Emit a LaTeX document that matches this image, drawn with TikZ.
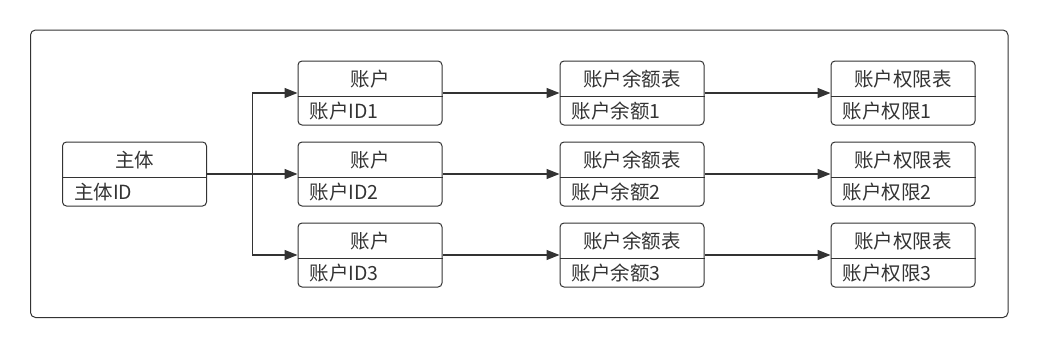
\documentclass[tikz,border=0pt]{standalone}
\usepackage{fontspec}
\setmainfont{Noto Sans CJK SC}
\usetikzlibrary{arrows.meta,calc}
\definecolor{ink}{HTML}{333333}
\tikzset{
  ebox/.style={draw=ink, line width=1pt, rounded corners=4pt, minimum width=144pt, minimum height=64pt, inner sep=0pt},
  etitle/.style={text=ink, font=\fontsize{19.5}{23}\selectfont, inner sep=0pt, anchor=center},
  elabel/.style={text=ink, font=\fontsize{19.5}{23}\selectfont, inner sep=0pt, anchor=west},
  arr/.style={draw=ink, line width=1.2pt, -{Triangle[length=13pt,width=10pt]}},
  frame/.style={draw=ink, line width=1pt, rounded corners=5pt}
}
\newcommand\mkentity[5]{%
  \node[ebox] (#1) at (#2,#3) {};
  \draw[ink, line width=1pt] ($(#1.north west)+(0,36)$) -- ($(#1.north east)+(0,36)$);
  \node[etitle] (#1t) at ($(#1.north)+(0,19)$) {#4};
  \node[elabel] (#1l) at ($(#1.north west)+(12,51)$) {#5};
}
\begin{document}
\begin{tikzpicture}[x=1pt,y=-1pt]
\useasboundingbox (0,0) rectangle (1039,348);
\draw[frame] (30.5,30) rectangle (1008,317.5);
\mkentity{zt}{134.5}{174}{主体}{主体ID}
\mkentity{acca}{370}{93}{账户}{账户ID1}
\mkentity{accb}{370}{174}{账户}{账户ID2}
\mkentity{accc}{370}{255}{账户}{账户ID3}
\mkentity{bala}{632}{93}{账户余额表}{账户余额1}
\mkentity{balb}{632}{174}{账户余额表}{账户余额2}
\mkentity{balc}{632}{255}{账户余额表}{账户余额3}
\mkentity{pera}{903}{93}{账户权限表}{账户权限1}
\mkentity{perb}{903}{174}{账户权限表}{账户权限2}
\mkentity{perc}{903}{255}{账户权限表}{账户权限3}
\coordinate (br) at (252.5,174);
\draw[arr] (zt.east) -- (accb.west);
\draw[arr] (br) |- (acca.west);
\draw[arr] (br) |- (accc.west);
\draw[arr] (acca.east) -- (bala.west);
\draw[arr] (accb.east) -- (balb.west);
\draw[arr] (accc.east) -- (balc.west);
\draw[arr] (bala.east) -- (pera.west);
\draw[arr] (balb.east) -- (perb.west);
\draw[arr] (balc.east) -- (perc.west);
\end{tikzpicture}
\end{document}
